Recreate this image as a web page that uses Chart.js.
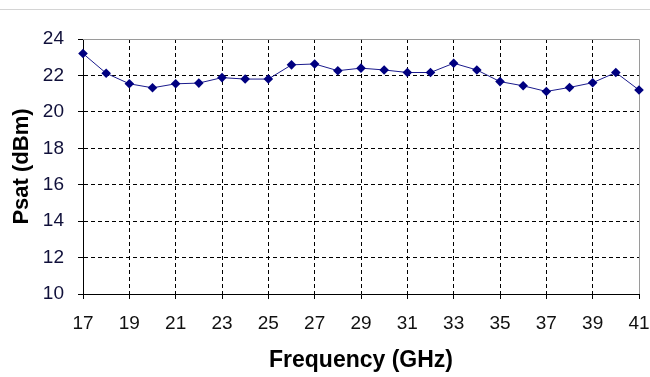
<!DOCTYPE html>
<html>
<head>
<meta charset="utf-8">
<script src="https://cdn.jsdelivr.net/npm/chart.js@4.4.1/dist/chart.umd.min.js"></script>
<style>
  html, body { margin: 0; padding: 0; background: #fff; }
  #wrap { position: relative; width: 650px; height: 377px; }
</style>
</head>
<body>
<div id="wrap"><canvas id="chart" width="650" height="377"></canvas></div>
<script>
// Saturated output power across the band
const frequencies = [17, 18, 19, 20, 21, 22, 23, 24, 25, 26, 27, 28, 29, 30, 31, 32, 33, 34, 35, 36, 37, 38, 39, 40, 41];
const psat = [23.2, 22.12, 21.54, 21.32, 21.54, 21.58, 21.88, 21.8, 21.8, 22.58, 22.63, 22.26, 22.4, 22.3, 22.16, 22.16, 22.67, 22.3, 21.66, 21.43, 21.12, 21.34, 21.6, 22.16, 21.2];
const xTicks = [17, 19, 21, 23, 25, 27, 29, 31, 33, 35, 37, 39, 41];
const yTicks = [10, 12, 14, 16, 18, 20, 22, 24];

const FONT = "'Liberation Sans', Arial, sans-serif";

// Thin rule across the top of the page and the grey frame on the top/right of the plot
const framePlugin = {
  id: 'frame',
  beforeDraw(chart) {
    const ctx = chart.ctx;
    ctx.save();
    ctx.strokeStyle = '#d4d4d4';
    ctx.lineWidth = 1;
    ctx.beginPath();
    ctx.moveTo(0, 9.5);
    ctx.lineTo(chart.width, 9.5);
    ctx.stroke();
    ctx.restore();
  },
  beforeDatasetsDraw(chart) {
    const a = chart.chartArea;
    const ctx = chart.ctx;
    ctx.save();
    ctx.strokeStyle = '#9a9a9a';
    ctx.lineWidth = 1;
    ctx.beginPath();
    ctx.moveTo(Math.round(a.left), Math.round(a.top) + 0.5);
    ctx.lineTo(Math.round(a.right) + 0.5, Math.round(a.top) + 0.5);
    ctx.lineTo(Math.round(a.right) + 0.5, Math.round(a.bottom));
    ctx.stroke();
    ctx.restore();
  }
};

new Chart(document.getElementById('chart'), {
  type: 'line',
  data: {
    datasets: [{
      data: frequencies.map((f, i) => ({ x: f, y: psat[i] })),
      borderColor: '#1a1a8c',
      borderWidth: 1,
      backgroundColor: '#000080',
      pointStyle: 'rectRot',
      pointRadius: 4.8,
      pointBorderWidth: 0,
      pointBackgroundColor: '#000080',
      tension: 0,
      clip: false
    }]
  },
  options: {
    responsive: false,
    animation: false,
    events: [],
    layout: { padding: { left: 0, right: 0, top: 39, bottom: 0 } },
    plugins: { legend: { display: false }, tooltip: { enabled: false } },
    scales: {
      x: {
        type: 'linear',
        min: 17,
        max: 41,
        afterBuildTicks(scale) { scale.ticks = xTicks.map(v => ({ value: v })); },
        afterFit(scale) {
          scale.height = 83;
          scale.paddingLeft = 0;
          scale.paddingRight = 11;
        },
        ticks: {
          color: '#111',
          font: { family: FONT, size: 19 },
          padding: 13,
          maxRotation: 0,
          autoSkip: false
        },
        grid: {
          color: ctx => (ctx.tick && ctx.tick.value === 41) ? 'rgba(0,0,0,0)' : '#000',
          lineWidth: 1,
          tickLength: 5,
          tickColor: '#000',
          tickWidth: 1
        },
        border: { display: true, color: '#000', width: 1, dash: [4, 3] },
        title: {
          display: true,
          text: 'Frequency (GHz)',
          color: '#000',
          font: { family: FONT, size: 23, weight: 'bold' },
          padding: { top: 0, bottom: 3 }
        }
      },
      y: {
        type: 'linear',
        min: 10,
        max: 24,
        afterBuildTicks(scale) { scale.ticks = yTicks.map(v => ({ value: v })); },
        afterFit(scale) { scale.width = 83; },
        ticks: {
          color: '#10103a',
          font: { family: FONT, size: 19 },
          padding: 14
        },
        grid: {
          color: ctx => (ctx.tick && ctx.tick.value === 24) ? 'rgba(0,0,0,0)' : '#000',
          lineWidth: 1,
          tickLength: 5,
          tickColor: '#000',
          tickWidth: 1
        },
        border: { display: true, color: '#000', width: 1, dash: [4, 3] },
        title: {
          display: true,
          text: 'Psat (dBm)',
          color: '#000',
          font: { family: FONT, size: 22, weight: 'bold' },
          padding: { top: 9, bottom: 0 }
        }
      }
    }
  },
  plugins: [framePlugin]
});
</script>
</body>
</html>
